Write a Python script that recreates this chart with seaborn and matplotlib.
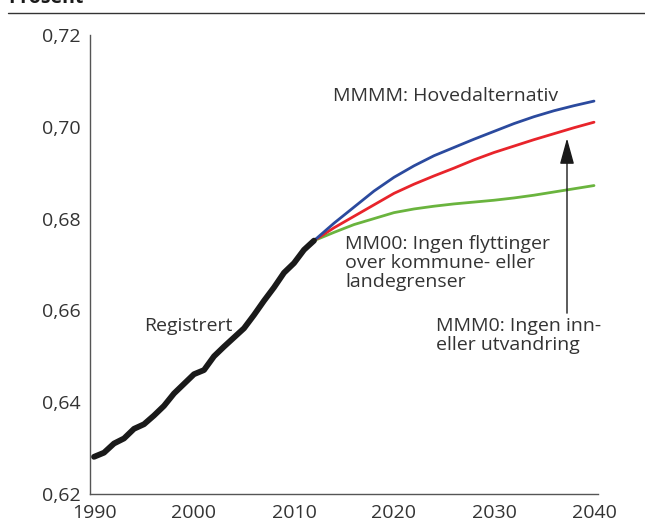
import matplotlib
matplotlib.use("Agg")
import matplotlib.pyplot as plt
import seaborn as sns
import pandas as pd

# ---- data ----
reg_years = list(range(1990, 2013))
reg_values = [0.6281, 0.6290, 0.6310, 0.6321, 0.6342, 0.6352, 0.6371, 0.6392,
              0.6419, 0.6440, 0.6461, 0.6470, 0.6500, 0.6521, 0.6541, 0.6561,
              0.6590, 0.6621, 0.6650, 0.6682, 0.6703, 0.6732, 0.6752]

proj_years = [2012, 2014, 2016, 2018, 2020, 2022, 2024, 2026, 2028, 2030,
              2032, 2034, 2036, 2038, 2040]
mmmm_values = [0.6752, 0.6790, 0.6825, 0.6860, 0.6890, 0.6915, 0.6937, 0.6955,
               0.6973, 0.6990, 0.7007, 0.7022, 0.7035, 0.7046, 0.7056]
mmm0_values = [0.6752, 0.6780, 0.6805, 0.6830, 0.6855, 0.6875, 0.6893, 0.6910,
               0.6928, 0.6944, 0.6958, 0.6972, 0.6985, 0.6998, 0.7010]
mm00_values = [0.6752, 0.6770, 0.6787, 0.6800, 0.6813, 0.6821, 0.6827, 0.6832,
               0.6836, 0.6840, 0.6845, 0.6851, 0.6858, 0.6865, 0.6872]

x_ticks = [1990, 2000, 2010, 2020, 2030, 2040]
x_tick_labels = ["1990", "2000", "2010", "2020", "2030", "2040"]
y_ticks = [0.62, 0.64, 0.66, 0.68, 0.70, 0.72]
y_tick_labels = ["0,62", "0,64", "0,66", "0,68", "0,70", "0,72"]

unit_label = "Prosent"
label_registrert = "Registrert"
label_mmmm = "MMMM: Hovedalternativ"
label_mm00 = "MM00: Ingen flyttinger\nover kommune- eller\nlandegrenser"
label_mmm0 = "MMM0: Ingen inn-\neller utvandring"

# ---- style ----
sns.set_theme(style="white")
plt.rcParams["font.family"] = ["Open Sans", "DejaVu Sans"]
TXT = "#333333"
FS = 14

fig = plt.figure(figsize=(6.45, 5.26), dpi=100)
ax = fig.add_axes([90 / 645, 1 - 494 / 526, 508 / 645, (494 - 35) / 526])

df_reg = pd.DataFrame({"year": reg_years, "value": reg_values})
df_blue = pd.DataFrame({"year": proj_years, "value": mmmm_values})
df_red = pd.DataFrame({"year": proj_years, "value": mmm0_values})
df_green = pd.DataFrame({"year": proj_years, "value": mm00_values})

sns.lineplot(data=df_green, x="year", y="value", ax=ax, color="#6ab43e", lw=2.0)
sns.lineplot(data=df_red, x="year", y="value", ax=ax, color="#e8242b", lw=2.0)
sns.lineplot(data=df_blue, x="year", y="value", ax=ax, color="#2b4a9e", lw=2.0)
sns.lineplot(data=df_reg, x="year", y="value", ax=ax, color="#1a1a1a", lw=4.2,
             solid_capstyle="round", solid_joinstyle="round")

ax.set_xlim(1989.6, 2040.4)
ax.set_ylim(0.62, 0.72)
ax.set_xticks(x_ticks)
ax.set_xticklabels(x_tick_labels)
ax.set_yticks(y_ticks)
ax.set_yticklabels(y_tick_labels)
ax.set_xlabel("")
ax.set_ylabel("")

for s in ["top", "right"]:
    ax.spines[s].set_visible(False)
for s in ["left", "bottom"]:
    ax.spines[s].set_color("#555555")
    ax.spines[s].set_linewidth(1.0)

ax.tick_params(axis="both", direction="in", length=8, width=1.0, color="#555555",
               labelsize=FS, labelcolor=TXT)
ax.tick_params(axis="y", pad=7)
ax.tick_params(axis="x", pad=7)

# annotations
ax.text(1995.0, 0.6566, label_registrert, fontsize=FS, color=TXT, va="center", ha="left")
ax.text(2013.9, 0.7067, label_mmmm, fontsize=FS, color=TXT, va="center", ha="left")
ax.text(2015.1, 0.6764, label_mm00, fontsize=FS, color=TXT, va="top", ha="left",
        linespacing=1.08)
ax.text(2024.2, 0.6586, label_mmm0, fontsize=FS, color=TXT, va="top", ha="left",
        linespacing=1.08)
ax.annotate("", xy=(2037.3, 0.6975), xytext=(2037.3, 0.6594),
            arrowprops=dict(arrowstyle="-|>,head_length=0.8,head_width=0.22",
                            color="#1a1a1a", lw=1.0,
                            mutation_scale=20, shrinkA=0, shrinkB=0))

# header
fig.text(8 / 645, 1 - 3 / 526, unit_label, fontsize=FS, fontweight="bold",
         color="#1a1a1a", ha="left", va="baseline")
fig.add_artist(plt.Line2D([8 / 645, 1.0], [1 - 13 / 526, 1 - 13 / 526],
                          color="#333333", lw=1.0, transform=fig.transFigure))

fig.savefig("out.png", dpi=100)
